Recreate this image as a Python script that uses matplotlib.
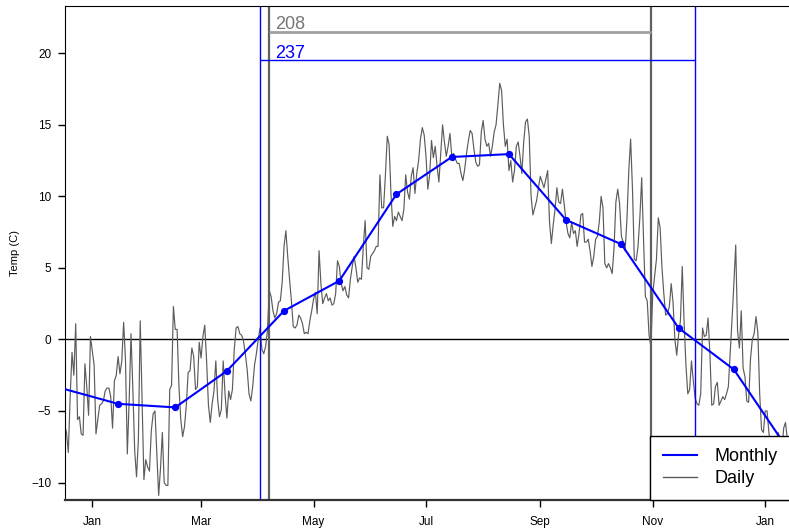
import numpy as np
import pandas as pd
import matplotlib
matplotlib.use("Agg")
import matplotlib.pyplot as plt
import matplotlib.dates as mdates
from matplotlib.lines import Line2D

plt.rcParams['font.family'] = ['Liberation Sans', 'DejaVu Sans']

# daily mean temperature (C), 2018-12-17 .. 2020-01-12
daily_start_date = "2018-12-17"
daily_temp = [
    -6.0, -6.5, -7.9, -4.0, -0.9, -2.5, 1.1, -5.6, -5.4, -6.6, -6.7, -1.7, -3.3, -5.3, 0.2,
    -0.8, -1.8, -6.6, -5.6, -4.6, -4.5, -4.3, -3.6, -3.4, -3.4,
    -4.0, -6.2, -2.9, -2.5, -1.2, -2.4, -1.5, 1.2, -1.4, -8.0,
    -4.3, 0.4, -3.5, -7.8, -9.6, -7.0, 1.3, -4.3, -9.8, -8.4,
    -8.9, -9.2, -6.4, -5.2, -5.0, -8.0, -10.9, -9.0, -6.5, -10.0,
    -10.2, -10.2, -3.5, -3.2, 2.3, 0.7, 0.7, -3.3, -5.6, -6.8,
    -6.1, -4.6, -2.3, -2.2, -0.6, -1.2, -3.5, -3.3, -0.2, -1.3,
    0.2, 1.0, -1.5, -4.6, -5.8, -4.5, -3.6, -1.5, -4.2, -5.4,
    -4.9, -1.5, -3.8, -5.5, -3.6, -4.2, -3.5, -0.7, 0.8, 0.9,
    0.4, 0.3, -0.1, -1.0, -2.1, -3.8, -4.3, -3.3, -1.8, -1.0,
    0.0, 0.8, -0.7, -1.0, -0.5, 0.6, 3.4, 3.0, 2.0, 1.5,
    1.8, 2.6, 2.7, 4.0, 6.5, 7.6, 5.8, 4.2, 2.7, 0.9,
    0.8, 1.0, 1.7, 1.5, 1.1, 0.4, 0.5, 0.4, 1.3, 2.0,
    2.8, 3.3, 1.8, 6.2, 3.9, 2.5, 2.9, 3.2, 2.7, 2.9,
    2.4, 2.5, 3.2, 5.5, 5.1, 3.9, 3.4, 3.7, 3.1, 2.9,
    4.2, 5.1, 5.8, 5.0, 4.0, 4.3, 4.2, 6.5, 8.3, 5.0,
    4.9, 5.8, 6.0, 6.2, 6.5, 6.5, 11.5, 9.2, 9.2, 11.5,
    14.2, 13.6, 10.2, 7.9, 8.6, 8.3, 8.9, 8.6, 8.3, 9.1,
    11.5, 10.3, 9.8, 11.4, 12.0, 10.2, 11.6, 12.5, 14.0, 14.8,
    14.3, 12.8, 10.5, 11.5, 13.9, 12.7, 13.5, 12.1, 11.0, 13.0,
    15.0, 13.8, 12.8, 13.5, 14.4, 12.8, 13.0, 12.6, 12.3, 12.3,
    11.6, 11.1, 11.9, 13.0, 13.9, 14.6, 14.4, 13.3, 12.4, 12.1,
    12.2, 14.5, 15.3, 14.0, 13.5, 13.7, 12.8, 13.5, 14.5, 15.0,
    16.4, 17.9, 17.4, 15.0, 13.5, 14.0, 11.8, 12.5, 11.0, 11.8,
    13.5, 13.8, 12.8, 11.6, 13.8, 15.2, 15.4, 14.2, 10.0, 8.7,
    9.2, 9.7, 10.6, 11.4, 11.0, 10.6, 11.2, 11.8, 8.2, 6.7,
    8.0, 9.1, 10.6, 9.6, 9.5, 10.5, 9.4, 8.2, 7.4, 7.1,
    8.2, 7.4, 7.6, 6.5, 7.4, 8.7, 8.8, 6.8, 6.8, 7.0,
    6.2, 5.1, 5.8, 7.0, 7.2, 8.2, 10.0, 9.2, 5.3, 5.0,
    5.3, 5.0, 4.6, 6.4, 9.6, 10.5, 9.5, 7.2, 6.8, 6.2,
    8.4, 11.8, 14.0, 10.5, 5.6, 5.5, 6.5, 8.5, 11.3, 7.0,
    3.0, 2.7, 0.3, -0.5, 3.2, 4.4, 5.6, 8.5, 7.8, 5.0,
    3.2, 1.7, 1.8, 2.3, 3.9, 2.6, 0.0, -1.1, 0.3, 1.3,
    5.1, 1.2, -1.8, -3.8, -3.5, -1.5, -2.9, -4.1, -4.5, -4.6,
    -3.8, 0.8, 0.2, 0.3, 1.5, -1.0, -4.6, -4.5, -3.3, -3.0,
    -4.6, -4.3, -4.0, -4.2, -3.8, -3.3, -1.0, 1.4, 3.9, 6.6,
    0.6, -0.6, 2.0, -2.0, -2.6, -4.3, -4.4, -1.4, 0.0, 0.4,
    1.6, 0.5, -3.8, -6.3, -6.5, -5.0, -5.0, -6.5, -7.5, -8.0,
    -7.5, -7.0, -6.5, -7.0, -8.0, -6.2, -5.8, -7.0,
]

# monthly means, plotted at mid-month
monthly_dates = ["2018-12-15", "2019-01-15", "2019-02-15", "2019-03-15",
                 "2019-04-15", "2019-05-15", "2019-06-15", "2019-07-15",
                 "2019-08-15", "2019-09-15", "2019-10-15", "2019-11-15",
                 "2019-12-15", "2020-01-15"]
monthly_temp = [-3.4, -4.5, -4.75, -2.2, 2.0, 4.1, 10.15, 12.75,
                12.95, 8.35, 6.65, 0.8, -2.1, -8.0]

# growing season bounds (first/last day above 0 C)
daily_season = ("2019-04-07", "2019-10-31")
monthly_season = ("2019-04-02", "2019-11-24")
daily_bar_y = 21.5
monthly_bar_y = 19.5

daily_x = pd.date_range(daily_start_date, periods=len(daily_temp), freq="D")
monthly_x = pd.to_datetime(monthly_dates)
d0, d1 = pd.to_datetime(daily_season)
m0, m1 = pd.to_datetime(monthly_season)
daily_len = (d1 - d0).days + 1
monthly_len = (m1 - m0).days + 1

W, H = 789, 532
fig = plt.figure(figsize=(W / 100, H / 100), dpi=100)
ax = fig.add_axes([65.3 / W, 32 / H, (W - 65.3) / W, 494 / H])

ax.plot(daily_x, daily_temp, color="#5c5c5c", lw=0.85, zorder=2)
ax.plot(monthly_x, monthly_temp, color="blue", lw=1.5, marker="o", ms=4.2, zorder=3)
ax.axhline(0, color="black", lw=1, zorder=1)

ax.axvline(m0, color="blue", lw=1, zorder=2.5)
ax.axvline(m1, color="blue", lw=1, zorder=2.5)
ax.axvline(d0, color="#606060", lw=1.6, zorder=2.5)
ax.axvline(d1, color="#606060", lw=1.6, zorder=2.5)
ax.hlines(daily_bar_y, d0, d1, color="#a0a0a0", lw=2, zorder=2.5)
ax.hlines(monthly_bar_y, m0, m1, color="blue", lw=1, zorder=2.5)

ax.annotate(str(daily_len), xy=(d0, daily_bar_y), xytext=(4.5, 2),
            textcoords="offset points", ha="left", va="baseline",
            fontsize=13, color="#777777")
ax.annotate(str(monthly_len), xy=(d0, monthly_bar_y), xytext=(4.5, 1.5),
            textcoords="offset points", ha="left", va="baseline",
            fontsize=13, color="blue")

base = pd.Timestamp("2019-01-01")
ax.set_xlim(base + pd.Timedelta(days=-14.64), base + pd.Timedelta(days=377.9))
ax.set_ylim(-11.22, 23.3)

ax.xaxis.set_major_locator(mdates.MonthLocator(bymonth=[1, 3, 5, 7, 9, 11]))
ax.xaxis.set_major_formatter(mdates.DateFormatter("%b"))
ax.set_yticks([-10, -5, 0, 5, 10, 15, 20])
ax.tick_params(axis="both", direction="out", length=5, width=1,
               labelsize=8.5, colors="black")
ax.tick_params(axis="x", pad=6.5)
ax.tick_params(axis="y", pad=5)
ax.set_ylabel("Temp (C)", fontsize=8, labelpad=8)

ax.spines["right"].set_visible(False)
ax.spines["bottom"].set_linewidth(1.6)
ax.spines["bottom"].set_color("#333333")

handles = [Line2D([], [], color="blue", lw=1.5),
           Line2D([], [], color="#5c5c5c", lw=1)]
leg = ax.legend(handles, ["Monthly", "Daily"], loc="lower left",
                bbox_to_anchor=(650 / W, 32 / H), bbox_transform=fig.transFigure,
                borderaxespad=0, fontsize=13, frameon=True, fancybox=False,
                edgecolor="black", framealpha=1, handlelength=1.9,
                handletextpad=0.95, labelspacing=0.28, borderpad=0.7)
leg.get_frame().set_linewidth(1)
leg.set_zorder(10)

fig.savefig("out.png", dpi=100)
